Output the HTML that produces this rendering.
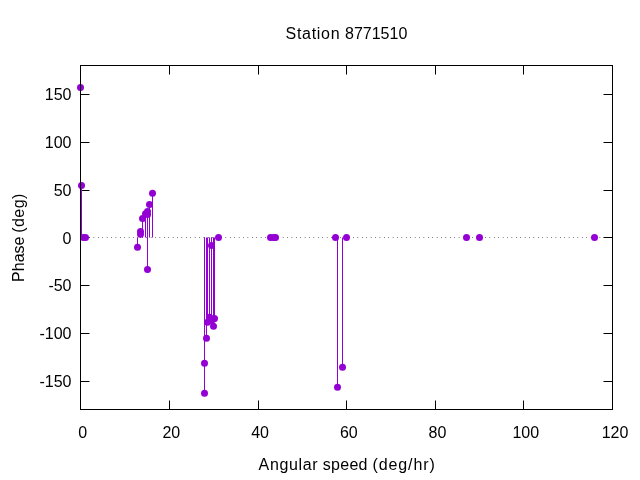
<!DOCTYPE html>
<html><head><meta charset="utf-8"><style>
html,body{margin:0;padding:0;background:#fff;width:640px;height:480px;overflow:hidden}
.t{position:absolute;font-family:'Liberation Sans', sans-serif;font-size:16px;color:#000;white-space:nowrap;line-height:1;}
svg{position:absolute;left:0;top:0}
</style></head><body>
<svg width="640" height="480" viewBox="0 0 640 480">
<line x1="80.45" y1="237.5" x2="612.5" y2="237.5" stroke="#000" stroke-width="1" stroke-dasharray="0.5 3.9"/>
<path d="M80.5 94.5h9M612.5 94.5h-9M80.5 142.5h9M612.5 142.5h-9M80.5 190.5h9M612.5 190.5h-9M80.5 237.5h9M612.5 237.5h-9M80.5 285.5h9M612.5 285.5h-9M80.5 333.5h9M612.5 333.5h-9M80.5 381.5h9M612.5 381.5h-9M80.5 409.5v-9M80.5 65.5v9M169.5 409.5v-9M169.5 65.5v9M258.5 409.5v-9M258.5 65.5v9M346.5 409.5v-9M346.5 65.5v9M435.5 409.5v-9M435.5 65.5v9M523.5 409.5v-9M523.5 65.5v9M612.5 409.5v-9M612.5 65.5v9" stroke="#000" stroke-width="1" fill="none"/>
<g stroke="#9400d3" stroke-width="1"><line x1="80.5" y1="237.5" x2="80.5" y2="87.4"/><line x1="81.5" y1="237.5" x2="81.5" y2="185.4"/><line x1="137.5" y1="237.5" x2="137.5" y2="247.3"/><line x1="140.5" y1="237.5" x2="140.5" y2="234.3"/><line x1="140.5" y1="237.5" x2="140.5" y2="231.5"/><line x1="142.5" y1="237.5" x2="142.5" y2="218.6"/><line x1="145.5" y1="237.5" x2="145.5" y2="213.8"/><line x1="147.5" y1="237.5" x2="147.5" y2="211.5"/><line x1="147.5" y1="237.5" x2="147.5" y2="214.5"/><line x1="147.5" y1="237.5" x2="147.5" y2="269.4"/><line x1="149.5" y1="237.5" x2="149.5" y2="204.4"/><line x1="152.5" y1="237.5" x2="152.5" y2="193.3"/><line x1="204.5" y1="237.5" x2="204.5" y2="393.2"/><line x1="204.5" y1="237.5" x2="204.5" y2="363.3"/><line x1="206.5" y1="237.5" x2="206.5" y2="338.3"/><line x1="207.5" y1="237.5" x2="207.5" y2="322.3"/><line x1="209.5" y1="237.5" x2="209.5" y2="317.3"/><line x1="211.5" y1="237.5" x2="211.5" y2="320.5"/><line x1="211.5" y1="237.5" x2="211.5" y2="245.5"/><line x1="213.5" y1="237.5" x2="213.5" y2="326.2"/><line x1="213.5" y1="237.5" x2="213.5" y2="319.0"/><line x1="214.5" y1="237.5" x2="214.5" y2="318.5"/><line x1="337.5" y1="237.5" x2="337.5" y2="387.3"/><line x1="342.5" y1="237.5" x2="342.5" y2="367.3"/></g>
<g fill="#9400d3"><circle cx="80.5" cy="87.4" r="3.5"/><circle cx="81.5" cy="185.4" r="3.5"/><circle cx="83.5" cy="237.5" r="3.5"/><circle cx="85.5" cy="237.5" r="3.5"/><circle cx="137.5" cy="247.3" r="3.5"/><circle cx="140.5" cy="234.3" r="3.5"/><circle cx="140.5" cy="231.5" r="3.5"/><circle cx="142.5" cy="218.6" r="3.5"/><circle cx="145.5" cy="213.8" r="3.5"/><circle cx="147.5" cy="211.5" r="3.5"/><circle cx="147.5" cy="214.5" r="3.5"/><circle cx="147.5" cy="269.4" r="3.5"/><circle cx="149.5" cy="204.4" r="3.5"/><circle cx="152.5" cy="193.3" r="3.5"/><circle cx="204.5" cy="393.2" r="3.5"/><circle cx="204.5" cy="363.3" r="3.5"/><circle cx="206.5" cy="338.3" r="3.5"/><circle cx="207.5" cy="322.3" r="3.5"/><circle cx="209.5" cy="317.3" r="3.5"/><circle cx="211.5" cy="320.5" r="3.5"/><circle cx="211.5" cy="245.5" r="3.5"/><circle cx="213.5" cy="326.2" r="3.5"/><circle cx="213.5" cy="319.0" r="3.5"/><circle cx="214.5" cy="318.5" r="3.5"/><circle cx="218.5" cy="237.5" r="3.5"/><circle cx="270.5" cy="237.5" r="3.5"/><circle cx="273.5" cy="237.5" r="3.5"/><circle cx="275.5" cy="237.5" r="3.5"/><circle cx="335.5" cy="237.5" r="3.5"/><circle cx="337.5" cy="387.3" r="3.5"/><circle cx="342.5" cy="367.3" r="3.5"/><circle cx="346.5" cy="237.5" r="3.5"/><circle cx="466.5" cy="237.5" r="3.5"/><circle cx="479.5" cy="237.5" r="3.5"/><circle cx="594.5" cy="237.5" r="3.5"/></g>
<rect x="80.5" y="65.5" width="532.0" height="344.0" fill="none" stroke="#000" stroke-width="1"/>
</svg>
<svg width="640" height="480" viewBox="0 0 640 480" style="font-family:'Liberation Sans', sans-serif;font-size:16px;will-change:transform" fill="#000">
<text x="285.6" y="38.5" text-anchor="start" letter-spacing="0.7">Station</text><text x="345.0" y="38.5" text-anchor="start" >8771510</text><text x="258.6" y="470" text-anchor="start" letter-spacing="0.65">Angular</text><text x="322.7" y="470" text-anchor="start" letter-spacing="0.3">speed</text><text x="372.5" y="470" text-anchor="start" letter-spacing="0.9">(deg/hr)</text><text x="0" y="0" text-anchor="start" transform="translate(23.8 281.9) rotate(-90)">Phase</text><text x="0" y="0" text-anchor="start" letter-spacing="0.45" transform="translate(23.8 232.8) rotate(-90)">(deg)</text><text x="71.5" y="100.05" text-anchor="end" >150</text><text x="71.5" y="147.6" text-anchor="end" >100</text><text x="71.5" y="195.6" text-anchor="end" >50</text><text x="71.5" y="243.6" text-anchor="end" >0</text><text x="71.5" y="291.1" text-anchor="end" >-50</text><text x="71.5" y="338.7" text-anchor="end" >-100</text><text x="71.5" y="386.6" text-anchor="end" >-150</text><text x="82.6" y="437.6" text-anchor="middle" >0</text><text x="171.3" y="437.6" text-anchor="middle" >20</text><text x="260.1" y="437.6" text-anchor="middle" >40</text><text x="348.8" y="437.6" text-anchor="middle" >60</text><text x="437.45" y="437.6" text-anchor="middle" >80</text><text x="525.8" y="437.6" text-anchor="middle" >100</text><text x="615.0" y="437.6" text-anchor="middle" >120</text>
</svg>
</body></html>
